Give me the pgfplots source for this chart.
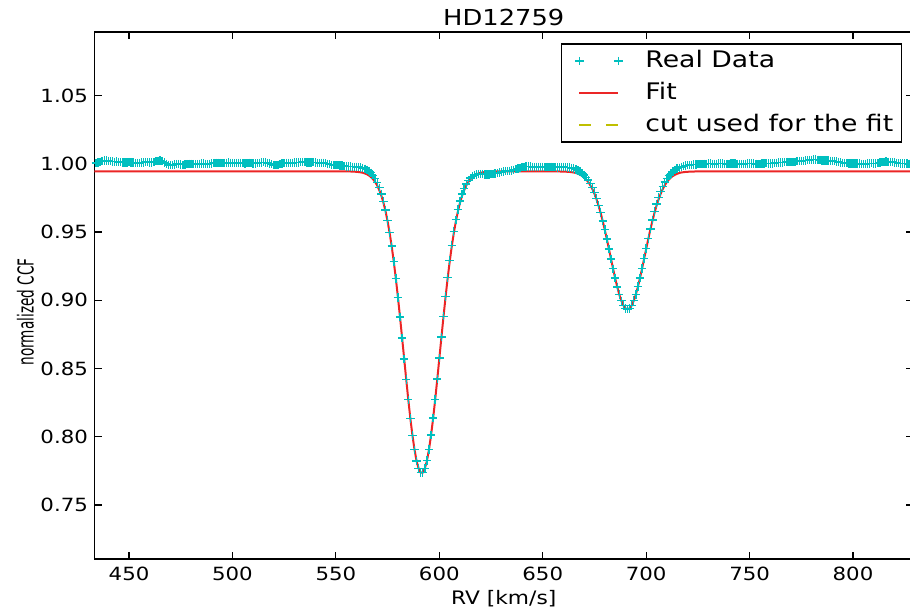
\documentclass[border=0pt]{standalone}
\usepackage{fontspec}
\setmainfont{DejaVu Sans}[FakeStretch=1.17]
\newfontfamily\ylabfont{DejaVu Sans}[FakeStretch=0.62]
\usepackage{pgfplots}
\pgfplotsset{compat=1.18}
\definecolor{mcyan}{rgb}{0,0.75,0.75}
\definecolor{mred}{rgb}{0.92,0.15,0.15}
\definecolor{myellow}{rgb}{0.75,0.75,0}
\pgfplotsset{
  mylegplus/.style={legend image code/.code={\pgfpathrectangle{\pgfpoint{-5pt}{-3pt}}{\pgfpoint{26.5pt}{6pt}}\pgfusepath{use as bounding box}\draw[##1,only marks] plot coordinates {(0pt,0pt) (19.5pt,0pt)};}},
  mylegline/.style={legend image code/.code={\pgfpathrectangle{\pgfpoint{-5pt}{-3pt}}{\pgfpoint{26.5pt}{6pt}}\pgfusepath{use as bounding box}\draw[##1] (0pt,0pt) -- (19.5pt,0pt);}},
}
\begin{document}
\begin{tikzpicture}
\begin{axis}[
  name=ax,
  scale only axis, width=409.25pt, height=263.5pt,
  xmin=433.3, xmax=829.0, ymin=0.7102, ymax=1.0963,
  xtick={450,500,550,600,650,700,750,800},
  ytick={0.75,0.8,0.85,0.9,0.95,1.0,1.05},
  minor tick num=0,
  tick align=inside, major tick length=3.5pt,
  tick style={black, line width=0.6pt},
  axis line style={line width=0.9pt},
  /pgf/number format/assume math mode=true,
  ticklabel style={font=\fontsize{9.1}{11}\selectfont},
  yticklabel style={/pgf/number format/fixed, /pgf/number format/fixed zerofill, /pgf/number format/precision=2, anchor=east, inner sep=0pt, xshift=-3.1pt},
  xticklabel style={anchor=base, inner sep=0pt, yshift=-10.35pt},
  every axis title shift=0pt,
  title={HD12759},
  title style={at={(axis description cs:0.5,1.012)}, anchor=base, font=\fontsize{11}{13}\selectfont, inner sep=0pt},
  xlabel={RV [km/s]},
  xlabel style={at={(axis description cs:0.5,-0.0848)}, anchor=base, font=\fontsize{9.3}{11}\selectfont, inner sep=0pt},
  ylabel={normalized CCF},
  ylabel style={at={(axis description cs:-0.0745,0.4693)}, anchor=base, font={\ylabfont\fontsize{11}{13}\selectfont}, inner sep=0pt},
  legend style={at={(1,1)}, anchor=north east, xshift=-5.5pt, yshift=-5.5pt, draw=black, line width=0.75pt, fill=white, inner xsep=4pt, inner ysep=3.2pt, row sep=5.4pt, column sep=11.5pt, font=\fontsize{11.4}{13}\selectfont, nodes={inner sep=0pt, text height=8.3pt, text depth=2.3pt}},
  legend cell align=left,
]
\addplot[only marks, mark=+, mark size=2.1pt, color=mcyan, mark options={draw=mcyan, line width=0.7pt}, mylegplus] coordinates {
(433,1.0000)(434,1.0005)(435,1.0010)(436,1.0015)(437,1.0020)(438,1.0024)(439,1.0025)(440,1.0022)(441,1.0018)(442,1.0016)(443,1.0015)(444,1.0016)(445,1.0014)(446,1.0012)(447,1.0010)(448,1.0008)(449,1.0010)(450,1.0012)(451,1.0010)(452,1.0008)(453,1.0007)(454,1.0006)(455,1.0006)(456,1.0008)(457,1.0010)(458,1.0012)(459,1.0011)(460,1.0009)(461,1.0010)(462,1.0013)(463,1.0018)(464,1.0022)(465,1.0023)(466,1.0018)(467,1.0010)(468,1.0000)(469,0.9992)(470,0.9989)(471,0.9991)(472,0.9995)(473,0.9998)(474,0.9997)(475,0.9994)(476,0.9993)(477,0.9995)(478,0.9998)(479,1.0000)(480,0.9999)(481,0.9997)(482,0.9996)(483,0.9997)(484,1.0000)(485,1.0002)(486,1.0001)(487,0.9999)(488,0.9998)(489,1.0000)(490,1.0003)(491,1.0005)(492,1.0006)(493,1.0006)(494,1.0005)(495,1.0004)(496,1.0005)(497,1.0007)(498,1.0008)(499,1.0007)(500,1.0005)(501,1.0004)(502,1.0005)(503,1.0007)(504,1.0006)(505,1.0004)(506,1.0003)(507,1.0004)(508,1.0006)(509,1.0005)(510,1.0003)(511,1.0002)(512,1.0004)(513,1.0007)(514,1.0010)(515,1.0011)(516,1.0010)(517,1.0006)(518,1.0001)(519,0.9996)(520,0.9992)(521,0.9991)(522,0.9993)(523,0.9997)(524,1.0001)(525,1.0004)(526,1.0006)(527,1.0006)(528,1.0005)(529,1.0006)(530,1.0008)(531,1.0009)(532,1.0010)(533,1.0011)(534,1.0012)(535,1.0012)(536,1.0010)(537,1.0008)(538,1.0009)(539,1.0011)(540,1.0010)(541,1.0007)(542,1.0005)(543,1.0006)(544,1.0007)(545,1.0004)(546,1.0000)(547,0.9996)(548,0.9993)(549,0.9991)(550,0.9990)(551,0.9989)(552,0.9988)(553,0.9986)(554,0.9983)(555,0.9981)(556,0.9980)(557,0.9979)(558,0.9978)(559,0.9978)(560,0.9977)(561,0.9975)(562,0.9972)(563,0.9968)(564,0.9963)(565,0.9956)
(566,0.9947)(567,0.9934)(568,0.9916)(569,0.9893)(570,0.9862)(571,0.9824)(572,0.9779)(573,0.9725)(574,0.9661)(575,0.9585)(576,0.9497)(577,0.9396)(578,0.9283)(579,0.9158)(580,0.9021)(581,0.8876)(582,0.8724)(583,0.8571)(584,0.8418)(585,0.8271)(586,0.8133)(587,0.8010)(588,0.7905)(589,0.7822)(590,0.7766)(591,0.7738)(592,0.7739)(593,0.7768)(594,0.7825)(595,0.7908)(596,0.8013)(597,0.8136)(598,0.8274)(599,0.8423)(600,0.8577)(601,0.8731)(602,0.8883)(603,0.9028)(604,0.9165)(605,0.9290)(606,0.9403)(607,0.9503)(608,0.9590)(609,0.9665)(610,0.9728)(611,0.9779)(612,0.9820)(613,0.9852)(614,0.9877)(615,0.9895)(616,0.9908)(617,0.9917)(618,0.9922)(619,0.9924)(620,0.9925)(621,0.9924)(622,0.9922)(623,0.9921)(624,0.9922)(625,0.9924)(626,0.9927)(627,0.9930)(628,0.9933)(629,0.9936)(630,0.9940)(631,0.9944)(632,0.9946)(633,0.9947)(634,0.9948)(635,0.9951)(636,0.9955)(637,0.9960)(638,0.9966)(639,0.9971)(640,0.9975)(641,0.9978)(642,0.9979)(643,0.9980)(644,0.9979)(645,0.9977)(646,0.9976)(647,0.9977)(648,0.9978)(649,0.9977)(650,0.9975)(651,0.9974)(652,0.9975)(653,0.9976)(654,0.9977)(655,0.9976)(656,0.9974)(657,0.9973)(658,0.9974)(659,0.9975)(660,0.9975)(661,0.9974)(662,0.9973)
(663,0.9972)(664,0.9969)(665,0.9964)(666,0.9958)(667,0.9951)(668,0.9942)(669,0.9931)(670,0.9918)(671,0.9901)(672,0.9880)(673,0.9855)(674,0.9824)(675,0.9788)(676,0.9745)(677,0.9696)(678,0.9642)(679,0.9582)(680,0.9517)(681,0.9448)(682,0.9375)(683,0.9303)(684,0.9231)(685,0.9162)(686,0.9098)(687,0.9042)(688,0.8996)(689,0.8962)(690,0.8941)(691,0.8934)(692,0.8941)(693,0.8962)(694,0.8997)(695,0.9043)(696,0.9100)(697,0.9164)(698,0.9234)(699,0.9307)(700,0.9380)(701,0.9453)(702,0.9523)(703,0.9589)(704,0.9650)(705,0.9705)(706,0.9754)(707,0.9797)(708,0.9834)(709,0.9866)(710,0.9892)(711,0.9913)(712,0.9930)(713,0.9944)(714,0.9955)(715,0.9964)(716,0.9971)(717,0.9977)(718,0.9982)(719,0.9986)(720,0.9989)(721,0.9991)(722,0.9993)(723,0.9994)(724,0.9995)(725,0.9996)
(726,0.9997)(727,0.9998)(728,0.9999)(729,1.0000)(730,1.0001)(731,1.0001)(732,1.0000)(733,0.9999)(734,1.0000)(735,1.0002)(736,1.0003)(737,1.0002)(738,1.0000)(739,0.9999)(740,1.0000)(741,1.0002)(742,1.0003)(743,1.0002)(744,1.0000)(745,0.9998)(746,0.9997)(747,0.9998)(748,1.0000)(749,1.0002)(750,1.0003)(751,1.0003)(752,1.0001)(753,0.9999)(754,0.9998)(755,0.9999)(756,1.0001)(757,1.0003)(758,1.0004)(759,1.0003)(760,1.0002)(761,1.0003)(762,1.0005)(763,1.0007)(764,1.0008)(765,1.0008)(766,1.0009)(767,1.0011)(768,1.0012)(769,1.0012)(770,1.0011)(771,1.0012)(772,1.0015)(773,1.0018)(774,1.0020)(775,1.0021)(776,1.0022)(777,1.0024)(778,1.0026)(779,1.0028)(780,1.0029)(781,1.0030)(782,1.0030)(783,1.0029)(784,1.0027)(785,1.0025)(786,1.0024)(787,1.0024)(788,1.0023)(789,1.0021)(790,1.0019)(791,1.0018)(792,1.0017)(793,1.0014)(794,1.0010)(795,1.0007)(796,1.0005)(797,1.0004)(798,1.0003)(799,1.0002)(800,1.0002)(801,1.0003)(802,1.0003)(803,1.0001)(804,0.9999)(805,0.9998)(806,0.9999)(807,1.0001)(808,1.0003)(809,1.0004)(810,1.0003)(811,1.0002)(812,1.0004)(813,1.0008)(814,1.0012)(815,1.0015)(816,1.0016)(817,1.0015)(818,1.0013)(819,1.0012)(820,1.0010)(821,1.0007)(822,1.0004)(823,1.0002)(824,1.0001)(825,1.0002)(826,1.0001)(827,0.9999)(828,0.9998)
};
\addlegendentry{Real Data}
\addplot[mred, line width=1pt, mylegline] coordinates {
(433,0.9944)(550,0.9944)(556,0.9944)(559,0.9942)(561,0.9939)(562,0.9937)(563,0.9934)(564,0.9929)(565,0.9923)(566,0.9914)(567,0.9902)(568,0.9886)(569,0.9866)(570,0.9840)(571,0.9806)(572,0.9765)(573,0.9714)(574,0.9652)(575,0.9578)(576,0.9492)(577,0.9393)(578,0.9281)(579,0.9157)(580,0.9021)(581,0.8877)(582,0.8726)(583,0.8573)(584,0.8420)(585,0.8272)(586,0.8134)(587,0.8011)(588,0.7906)(589,0.7823)(590,0.7767)(591,0.7738)(592,0.7738)(593,0.7767)(594,0.7823)(595,0.7906)(596,0.8011)(597,0.8134)(598,0.8272)(599,0.8420)(600,0.8573)(601,0.8726)(602,0.8877)(603,0.9021)(604,0.9157)(605,0.9281)(606,0.9393)(607,0.9492)(608,0.9578)(609,0.9652)(610,0.9714)(611,0.9765)(612,0.9806)(613,0.9840)(614,0.9866)(615,0.9886)(616,0.9902)(617,0.9914)(618,0.9923)(619,0.9929)(620,0.9934)(621,0.9937)(622,0.9939)(624,0.9942)(627,0.9944)(656,0.9944)(659,0.9943)(661,0.9942)(663,0.9940)(664,0.9938)(665,0.9936)(666,0.9932)(667,0.9927)(668,0.9920)(669,0.9911)(670,0.9900)(671,0.9885)(672,0.9866)(673,0.9843)(674,0.9814)(675,0.9780)(676,0.9739)(677,0.9692)(678,0.9639)(679,0.9580)(680,0.9516)(681,0.9447)(682,0.9375)(683,0.9303)(684,0.9231)(685,0.9162)(686,0.9098)(687,0.9042)(688,0.8996)(689,0.8962)(690,0.8941)(691,0.8934)(692,0.8941)(693,0.8962)(694,0.8996)(695,0.9042)(696,0.9098)(697,0.9162)(698,0.9231)(699,0.9303)(700,0.9375)(701,0.9447)(702,0.9516)(703,0.9580)(704,0.9639)(705,0.9692)(706,0.9739)(707,0.9780)(708,0.9814)(709,0.9843)(710,0.9866)(711,0.9885)(712,0.9900)(713,0.9911)(714,0.9920)(715,0.9927)(716,0.9932)(717,0.9936)(718,0.9938)(719,0.9940)(721,0.9942)(725,0.9944)(829,0.9944)
};
\addlegendentry{Fit}
\addlegendimage{myellow, line width=1pt, dash pattern=on 6pt off 7.5pt, mylegline}
\addlegendentry{cut used for the fit}
\end{axis}
\pgfresetboundingbox
\path ([xshift=-47.25pt,yshift=-25.35pt]ax.south west) rectangle ([xshift=407.75pt,yshift=16.15pt]ax.north west);
\end{tikzpicture}
\end{document}
